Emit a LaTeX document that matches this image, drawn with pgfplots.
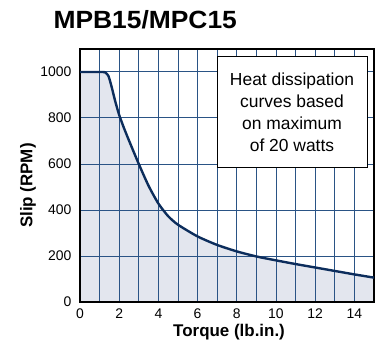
\documentclass[border=0pt]{standalone}
\usepackage{fontspec}
\setmainfont{Liberation Sans}
\usepackage{pgfplots}
\usepackage{pgfplotstable}
\pgfplotsset{compat=1.18}
\definecolor{gridblue}{HTML}{2A5385}
\definecolor{fillc}{HTML}{E3E6EE}
\definecolor{curvec}{HTML}{0C2D5C}
\pgfplotstableread{
x y
0 1000
1.15 1000
1.3 997
1.45 983
1.6 940
1.8 872
2.0 813
2.25 755
2.5 702
3.0 600
3.5 505
4.0 428
4.5 373
5.0 336
6.0 285
7.0 248
8.0 220
9.0 198
10.0 181
11.0 165
12.0 150
13.0 135
14.0 120
15.0 106
}\datatable
\begin{document}
\begin{tikzpicture}
\begin{axis}[
  set layers=standard,
  scale only axis, width=294bp, height=253bp,
  at={(0,0)}, anchor=south west,
  xmin=0, xmax=15, ymin=0, ymax=1100,
  xtick={0,2,...,14}, ytick={0,200,...,1000},
  minor xtick={1,3,...,15},
  xmajorgrids, xminorgrids, ymajorgrids,
  grid style={color=gridblue, line width=1pt},
  minor grid style={color=gridblue, line width=1pt},
  major tick length=0pt, minor tick length=0pt,
  axis line style={line width=2pt, black},
  tick label style={font=\fontsize{14}{14}\selectfont},
  /pgf/number format/assume math mode=true,
  /pgf/number format/1000 sep={},
  xticklabel style={yshift=-3bp},
  yticklabel style={xshift=-5bp},
  xlabel={\bfseries Torque (lb.in.)},
  ylabel={\bfseries Slip (RPM)},
  label style={font=\fontsize{17}{17}\selectfont},
  xlabel style={at={(axis description cs:0.507,-0.119)}, anchor=center},
  ylabel style={at={(axis description cs:-0.177,0.46)}, anchor=center},
]
\addplot[draw=none, fill=fillc, on layer=axis background, smooth, tension=0.4] table[x=x,y=y] {\datatable} \closedcycle;
\addplot[curvec, line width=2.4pt, line join=round, smooth, tension=0.4] table[x=x,y=y] {\datatable};
\end{axis}
\draw[fill=white, line width=1pt] (137bp,135bp) rectangle (287bp,245bp);
\node[align=center, font=\fontsize{17.5}{22}\selectfont] at (212bp,190bp)
  {Heat dissipation\\curves based\\on maximum\\of 20 watts};
\node[anchor=base west, font=\bfseries\fontsize{25}{25}\selectfont] at (-30bp,273bp)
  {\scalebox{1.06}[1]{MPB15/MPC15}};
\pgfresetboundingbox
\useasboundingbox (-80bp,-44bp) rectangle (298bp,302bp);
\end{tikzpicture}
\end{document}
